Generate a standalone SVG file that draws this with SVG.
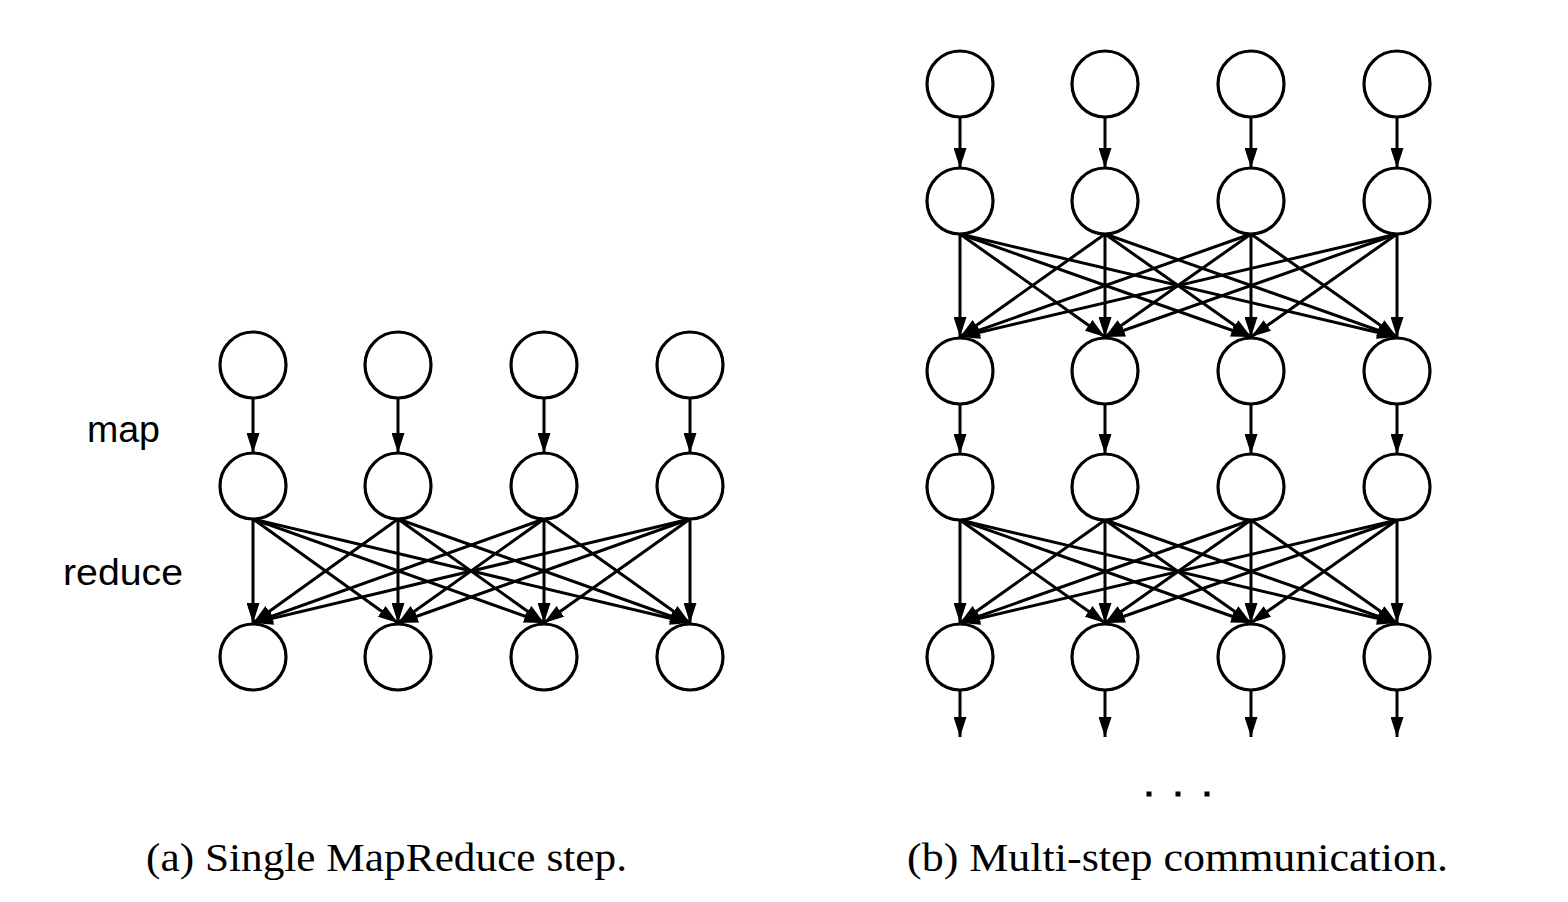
<svg xmlns="http://www.w3.org/2000/svg" width="1568" height="902" viewBox="0 0 1568 902">
<defs>
<style>
.n{fill:#fff;stroke:#000;stroke-width:3.2}
.e{stroke:#000;stroke-width:3;fill:none;marker-end:url(#ah)}
.lbl{font-family:"Liberation Sans",Arial,sans-serif;font-size:37px;fill:#000}
.cap{font-family:"Liberation Serif","Times New Roman",serif;font-size:41px;fill:#000}
</style>
<marker id="ah" markerUnits="userSpaceOnUse" markerWidth="20" markerHeight="13" refX="20" refY="6.5" orient="auto" viewBox="0 0 20 13">
<path d="M0,0 L20,6.5 L0,13 z" fill="#000"/>
</marker>
</defs>
<rect width="1568" height="902" fill="#fff"/>
<g id="connectors">
<line class="e" x1="253" y1="398" x2="253" y2="453"/>
<line class="e" x1="398" y1="398" x2="398" y2="453"/>
<line class="e" x1="544" y1="398" x2="544" y2="453"/>
<line class="e" x1="690" y1="398" x2="690" y2="453"/>
<line class="e" x1="253" y1="519" x2="253" y2="623"/>
<line class="e" x1="253" y1="519" x2="398" y2="623"/>
<line class="e" x1="253" y1="519" x2="544" y2="623"/>
<line class="e" x1="253" y1="519" x2="690" y2="623"/>
<line class="e" x1="398" y1="519" x2="253" y2="623"/>
<line class="e" x1="398" y1="519" x2="398" y2="623"/>
<line class="e" x1="398" y1="519" x2="544" y2="623"/>
<line class="e" x1="398" y1="519" x2="690" y2="623"/>
<line class="e" x1="544" y1="519" x2="253" y2="623"/>
<line class="e" x1="544" y1="519" x2="398" y2="623"/>
<line class="e" x1="544" y1="519" x2="544" y2="623"/>
<line class="e" x1="544" y1="519" x2="690" y2="623"/>
<line class="e" x1="690" y1="519" x2="253" y2="623"/>
<line class="e" x1="690" y1="519" x2="398" y2="623"/>
<line class="e" x1="690" y1="519" x2="544" y2="623"/>
<line class="e" x1="690" y1="519" x2="690" y2="623"/>
<line class="e" x1="960" y1="117" x2="960" y2="168"/>
<line class="e" x1="1105" y1="117" x2="1105" y2="168"/>
<line class="e" x1="1251" y1="117" x2="1251" y2="168"/>
<line class="e" x1="1397" y1="117" x2="1397" y2="168"/>
<line class="e" x1="960" y1="234" x2="960" y2="337"/>
<line class="e" x1="960" y1="234" x2="1105" y2="337"/>
<line class="e" x1="960" y1="234" x2="1251" y2="337"/>
<line class="e" x1="960" y1="234" x2="1397" y2="337"/>
<line class="e" x1="1105" y1="234" x2="960" y2="337"/>
<line class="e" x1="1105" y1="234" x2="1105" y2="337"/>
<line class="e" x1="1105" y1="234" x2="1251" y2="337"/>
<line class="e" x1="1105" y1="234" x2="1397" y2="337"/>
<line class="e" x1="1251" y1="234" x2="960" y2="337"/>
<line class="e" x1="1251" y1="234" x2="1105" y2="337"/>
<line class="e" x1="1251" y1="234" x2="1251" y2="337"/>
<line class="e" x1="1251" y1="234" x2="1397" y2="337"/>
<line class="e" x1="1397" y1="234" x2="960" y2="337"/>
<line class="e" x1="1397" y1="234" x2="1105" y2="337"/>
<line class="e" x1="1397" y1="234" x2="1251" y2="337"/>
<line class="e" x1="1397" y1="234" x2="1397" y2="337"/>
<line class="e" x1="960" y1="404" x2="960" y2="454"/>
<line class="e" x1="1105" y1="404" x2="1105" y2="454"/>
<line class="e" x1="1251" y1="404" x2="1251" y2="454"/>
<line class="e" x1="1397" y1="404" x2="1397" y2="454"/>
<line class="e" x1="960" y1="520" x2="960" y2="623"/>
<line class="e" x1="960" y1="520" x2="1105" y2="623"/>
<line class="e" x1="960" y1="520" x2="1251" y2="623"/>
<line class="e" x1="960" y1="520" x2="1397" y2="623"/>
<line class="e" x1="1105" y1="520" x2="960" y2="623"/>
<line class="e" x1="1105" y1="520" x2="1105" y2="623"/>
<line class="e" x1="1105" y1="520" x2="1251" y2="623"/>
<line class="e" x1="1105" y1="520" x2="1397" y2="623"/>
<line class="e" x1="1251" y1="520" x2="960" y2="623"/>
<line class="e" x1="1251" y1="520" x2="1105" y2="623"/>
<line class="e" x1="1251" y1="520" x2="1251" y2="623"/>
<line class="e" x1="1251" y1="520" x2="1397" y2="623"/>
<line class="e" x1="1397" y1="520" x2="960" y2="623"/>
<line class="e" x1="1397" y1="520" x2="1105" y2="623"/>
<line class="e" x1="1397" y1="520" x2="1251" y2="623"/>
<line class="e" x1="1397" y1="520" x2="1397" y2="623"/>
<line class="e" x1="960" y1="690" x2="960" y2="737"/>
<line class="e" x1="1105" y1="690" x2="1105" y2="737"/>
<line class="e" x1="1251" y1="690" x2="1251" y2="737"/>
<line class="e" x1="1397" y1="690" x2="1397" y2="737"/>
</g>
<g id="a-r1c1"><circle class="n" cx="253" cy="365" r="33"/></g>
<g id="a-r1c2"><circle class="n" cx="398" cy="365" r="33"/></g>
<g id="a-r1c3"><circle class="n" cx="544" cy="365" r="33"/></g>
<g id="a-r1c4"><circle class="n" cx="690" cy="365" r="33"/></g>
<g id="a-r2c1"><circle class="n" cx="253" cy="486" r="33"/></g>
<g id="a-r2c2"><circle class="n" cx="398" cy="486" r="33"/></g>
<g id="a-r2c3"><circle class="n" cx="544" cy="486" r="33"/></g>
<g id="a-r2c4"><circle class="n" cx="690" cy="486" r="33"/></g>
<g id="a-r3c1"><circle class="n" cx="253" cy="657" r="33"/></g>
<g id="a-r3c2"><circle class="n" cx="398" cy="657" r="33"/></g>
<g id="a-r3c3"><circle class="n" cx="544" cy="657" r="33"/></g>
<g id="a-r3c4"><circle class="n" cx="690" cy="657" r="33"/></g>
<g id="b-r1c1"><circle class="n" cx="960" cy="84" r="33"/></g>
<g id="b-r1c2"><circle class="n" cx="1105" cy="84" r="33"/></g>
<g id="b-r1c3"><circle class="n" cx="1251" cy="84" r="33"/></g>
<g id="b-r1c4"><circle class="n" cx="1397" cy="84" r="33"/></g>
<g id="b-r2c1"><circle class="n" cx="960" cy="201" r="33"/></g>
<g id="b-r2c2"><circle class="n" cx="1105" cy="201" r="33"/></g>
<g id="b-r2c3"><circle class="n" cx="1251" cy="201" r="33"/></g>
<g id="b-r2c4"><circle class="n" cx="1397" cy="201" r="33"/></g>
<g id="b-r3c1"><circle class="n" cx="960" cy="371" r="33"/></g>
<g id="b-r3c2"><circle class="n" cx="1105" cy="371" r="33"/></g>
<g id="b-r3c3"><circle class="n" cx="1251" cy="371" r="33"/></g>
<g id="b-r3c4"><circle class="n" cx="1397" cy="371" r="33"/></g>
<g id="b-r4c1"><circle class="n" cx="960" cy="487" r="33"/></g>
<g id="b-r4c2"><circle class="n" cx="1105" cy="487" r="33"/></g>
<g id="b-r4c3"><circle class="n" cx="1251" cy="487" r="33"/></g>
<g id="b-r4c4"><circle class="n" cx="1397" cy="487" r="33"/></g>
<g id="b-r5c1"><circle class="n" cx="960" cy="657" r="33"/></g>
<g id="b-r5c2"><circle class="n" cx="1105" cy="657" r="33"/></g>
<g id="b-r5c3"><circle class="n" cx="1251" cy="657" r="33"/></g>
<g id="b-r5c4"><circle class="n" cx="1397" cy="657" r="33"/></g>
<g id="labels">
<text class="lbl" x="87" y="442" textLength="73" lengthAdjust="spacingAndGlyphs">map</text>
<text class="lbl" x="63" y="585" textLength="120" lengthAdjust="spacingAndGlyphs">reduce</text>
</g>
<g id="ellipsis">
<rect x="1146.5" y="791.5" width="5" height="5" fill="#000"/>
<rect x="1175.5" y="791.5" width="5" height="5" fill="#000"/>
<rect x="1204.5" y="791.5" width="5" height="5" fill="#000"/>
</g>
<g id="captions">
<text class="cap" x="146" y="871" textLength="481" lengthAdjust="spacingAndGlyphs">(a) Single MapReduce step.</text>
<text class="cap" x="907" y="871" textLength="541" lengthAdjust="spacingAndGlyphs">(b) Multi-step communication.</text>
</g>
</svg>
